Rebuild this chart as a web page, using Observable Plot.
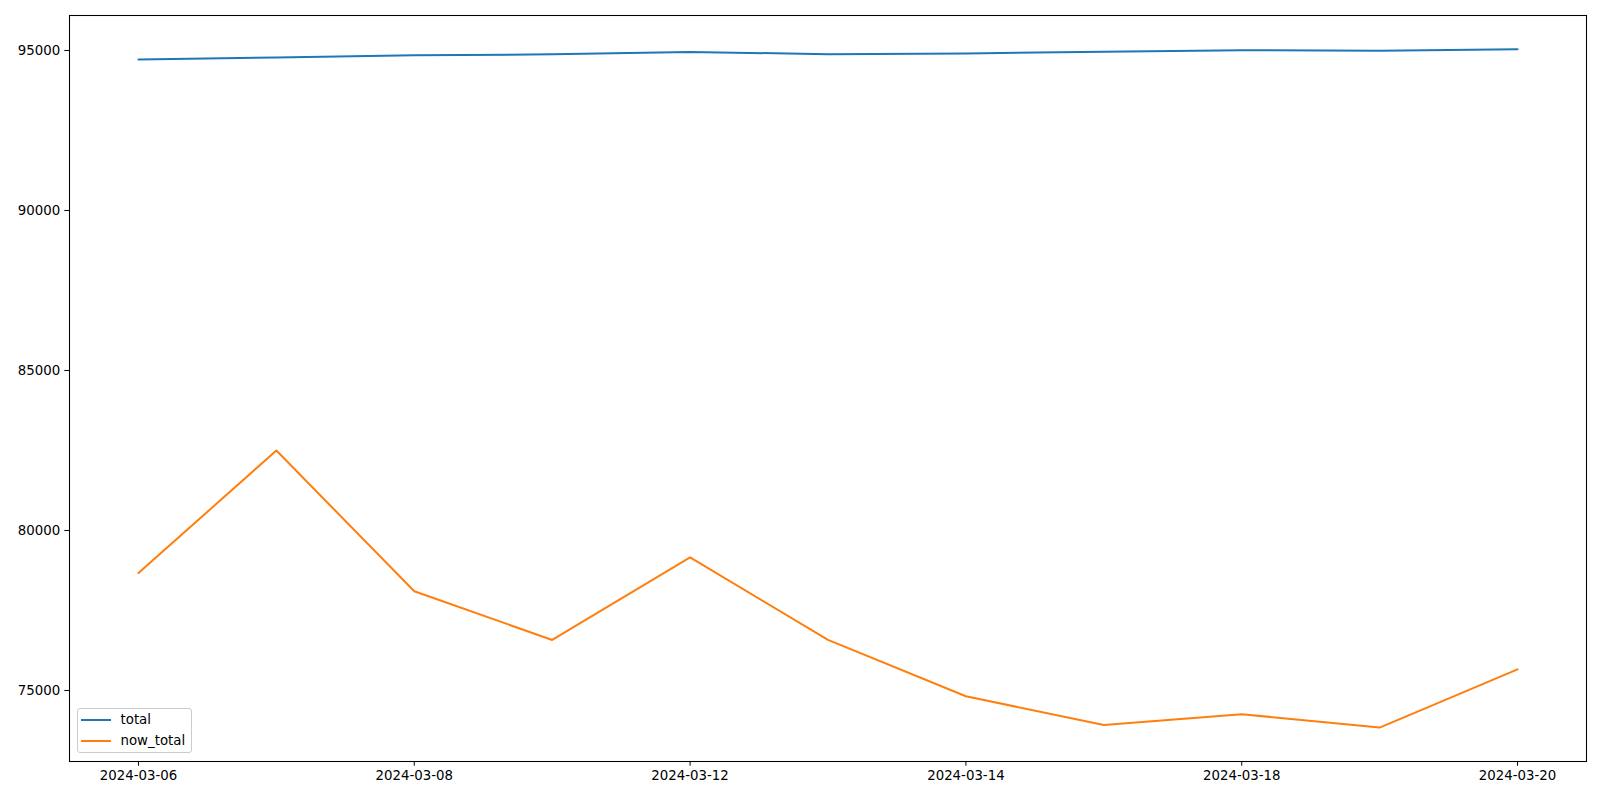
<!DOCTYPE html>
<html>
<head>
<meta charset="utf-8">
<script src="https://cdn.jsdelivr.net/npm/d3@7"></script>
<script src="https://cdn.jsdelivr.net/npm/@observablehq/plot@0.6"></script>
<style>
  html, body { margin: 0; padding: 0; background: #fff; }
  #wrap { position: relative; width: 1600px; height: 800px; font-family: "DejaVu Sans", sans-serif; }
  #legend {
    position: absolute; left: 76.5px; top: 708px; width: 115px; height: 45px;
    box-sizing: border-box; border: 1px solid #cccccc; border-radius: 3px;
    background: rgba(255,255,255,0.8); font-size: 13.33px; color: #000;
  }
  .item { position: absolute; left: 0; height: 16px; }
  .swatch { position: absolute; left: 3.5px; width: 30px; height: 0; border-top: 2px solid; }
  .lbl { position: absolute; left: 43px; white-space: nowrap; line-height: 16px; }
</style>
</head>
<body>
<div id="wrap"></div>
<script>
const dates = ["2024-03-06","2024-03-07","2024-03-08","2024-03-11","2024-03-12","2024-03-13","2024-03-14","2024-03-15","2024-03-18","2024-03-19","2024-03-20"];
const total = [94720, 94780, 94850, 94880, 94955, 94885, 94905, 94965, 95010, 94995, 95040];
const now_total = [78670, 82500, 78100, 76580, 79160, 76580, 74820, 73920, 74260, 73840, 75660];
const seriesNames = ["total", "now_total"];
const seriesColors = ["#1f77b4", "#ff7f0e"];
const xTicks = ["2024-03-06","2024-03-08","2024-03-12","2024-03-14","2024-03-18","2024-03-20"];
const yTicks = [75000, 80000, 85000, 90000, 95000];

const rows = [];
dates.forEach((d, i) => {
  rows.push({date: d, value: total[i], series: "total"});
  rows.push({date: d, value: now_total[i], series: "now_total"});
});

const chart = Plot.plot({
  width: 1600,
  height: 800,
  marginLeft: 69,
  marginRight: 14,
  marginTop: 15,
  marginBottom: 39,
  style: {fontFamily: "DejaVu Sans", fontSize: "13.33px", color: "#000", background: "#fff"},
  x: {type: "point", domain: dates, padding: 0.5, round: false, label: null},
  y: {domain: [72781, 96094], label: null},
  color: {domain: seriesNames, range: seriesColors},
  marks: [
    Plot.axisX({ticks: xTicks, tickSize: 4.67, tickPadding: 4.67, label: null, stroke: "#000", fill: "#000"}),
    Plot.axisY({ticks: yTicks, tickSize: 4.67, tickPadding: 4.67, tickFormat: d => String(d), label: null, stroke: "#000", fill: "#000"}),
    Plot.line(rows, {x: "date", y: "value", stroke: "series", z: "series", strokeWidth: 2}),
    Plot.frame({stroke: "#000", strokeWidth: 1.07})
  ]
});

const wrap = document.getElementById("wrap");
wrap.appendChild(chart);

const legend = document.createElement("div");
legend.id = "legend";
seriesNames.forEach((name, i) => {
  const item = document.createElement("div");
  item.className = "item";
  item.style.top = (3 + i * 21.4) + "px";
  const sw = document.createElement("div");
  sw.className = "swatch";
  sw.style.top = "7px";
  sw.style.borderTopColor = seriesColors[i];
  const lb = document.createElement("div");
  lb.className = "lbl";
  lb.style.top = "0px";
  lb.textContent = name;
  item.appendChild(sw);
  item.appendChild(lb);
  legend.appendChild(item);
});
wrap.appendChild(legend);
</script>
</body>
</html>
